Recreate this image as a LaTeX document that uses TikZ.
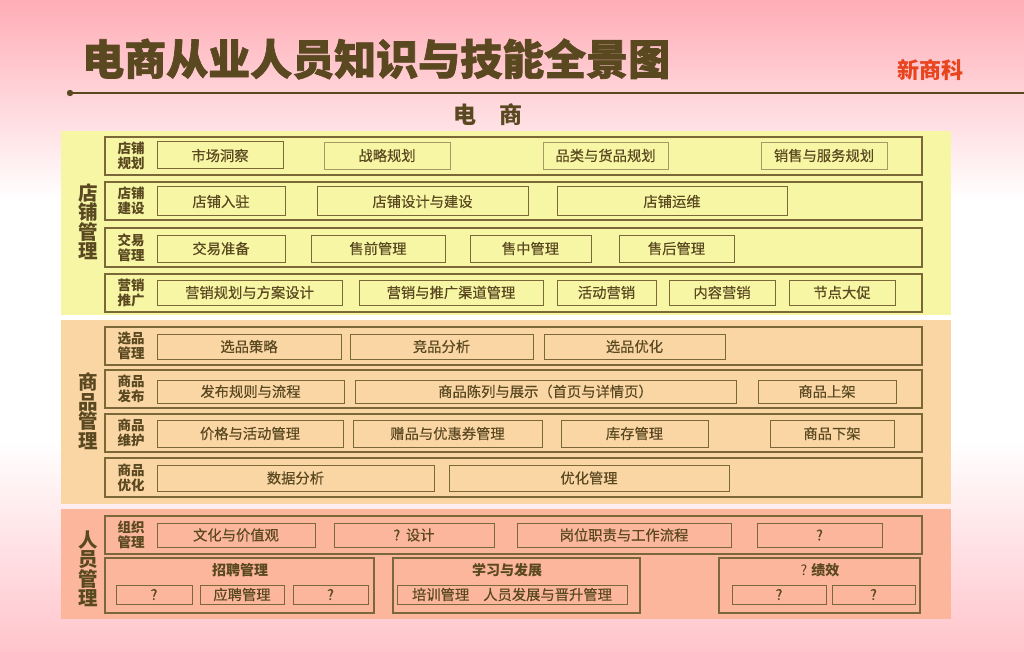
\documentclass[tikz,border=0pt]{standalone}
\usepackage{fontspec}
\setmainfont{Noto Sans CJK SC}
\newfontfamily\titlefont{Noto Sans CJK SC}[FakeBold=1.6]
\newfontfamily\cellfont{Noto Sans CJK SC}[FakeBold=0.35]
\definecolor{bgpink}{HTML}{FFADB6}
\definecolor{bgpinkb}{HTML}{FFC4CB}
\definecolor{txt}{HTML}{5A4820}
\definecolor{brd}{HTML}{7A6838}
\definecolor{brdlight}{HTML}{A89868}
\definecolor{secyellow}{HTML}{F6F6A4}
\definecolor{secorange}{HTML}{FAD6A4}
\definecolor{secsalmon}{HTML}{FBB69C}
\definecolor{red}{HTML}{E8441E}
\newcommand\cellnode[7][cell]{%
  \node[#1, minimum width={(#5)*1pt-(#3)*1pt}, minimum height={(#6)*1pt-(#4)*1pt}]
    (#2) at ({(#3+#5)/2},{(#4+#6)/2}) {#7};}
\begin{document}
\begin{tikzpicture}[x=1pt,y=-1pt,
  cell/.style={draw=brd, line width=1pt, inner sep=0pt, outer sep=0pt, text=txt,
    font=\cellfont\fontsize{14.3}{14}\selectfont},
  celllight/.style={cell, draw=brdlight, line width=0.8pt},
  rowbox/.style={draw=brd, line width=1.3pt, inner sep=0pt, outer sep=0pt},
  grpbox/.style={draw=brd, line width=1.1pt, inner sep=0pt, outer sep=0pt},
  rowlabel/.style={text=txt, align=center, font=\fontsize{13.5}{15}\selectfont\bfseries, inner sep=0pt},
  seclabel/.style={text=txt, align=center, font=\fontsize{19.5}{19.5}\selectfont\bfseries, inner sep=0pt},
  grptitle/.style={text=txt, font=\fontsize{14}{14}\selectfont\bfseries, inner sep=0pt},
  section/.style={inner sep=0pt, outer sep=0pt, draw=none}
]
\useasboundingbox (0,0) rectangle (1024,652);
% background
\shade[top color=bgpink, bottom color=white] (0,0) rectangle (1024,200);
\fill[white] (0,200) rectangle (1024,440);
\shade[top color=white, bottom color=bgpinkb] (0,440) rectangle (1024,652);

% header
\node[text=txt, font=\titlefont\fontsize{42}{42}\selectfont\bfseries, inner sep=0pt, anchor=west] (title) at (82,59) {电商从业人员知识与技能全景图};
\node[text=red, font=\fontsize{22}{22}\selectfont\bfseries, inner sep=0pt] (brand) at (930,70) {新商科};
\coordinate (lineL) at (70,93);
\coordinate (lineR) at (1024,93);
\draw[txt, line width=2.6pt] (lineL) -- (lineR);
\fill[txt] (lineL) circle (3.2);
\node[text=txt, font=\fontsize{23}{23}\selectfont\bfseries, inner sep=0pt] (sub) at (488,115) {电\hspace{1em}商};

% sections
\cellnode[section, fill=secyellow]{secA}{61}{131}{951}{315}{}
\cellnode[section, fill=secorange]{secB}{61}{320}{951}{504}{}
\cellnode[section, fill=secsalmon]{secC}{61}{509}{951}{619}{}

\node[seclabel] (labA) at (88,222) {店\\铺\\管\\理};
\node[seclabel] (labB) at (88,411) {商\\品\\管\\理};
\node[seclabel] (labC) at (88,569) {人\\员\\管\\理};

% ---- section A rows
\cellnode[rowbox]{rA1}{105}{137}{922}{175}{}
\cellnode[rowbox]{rA2}{105}{182}{922}{220}{}
\cellnode[rowbox]{rA3}{105}{228}{922}{267}{}
\cellnode[rowbox]{rA4}{105}{274}{922}{312}{}
\node[rowlabel] (lA1) at (131,156) {店铺\\规划};
\node[rowlabel] (lA2) at (131,201) {店铺\\建设};
\node[rowlabel] (lA3) at (131,247.5) {交易\\管理};
\node[rowlabel] (lA4) at (131,293) {营销\\推广};

\cellnode{a11}{157}{142}{283}{169}{市场洞察}
\cellnode[celllight]{a12}{324}{142}{450}{169}{战略规划}
\cellnode[celllight]{a13}{543}{142}{668}{169}{品类与货品规划}
\cellnode[celllight]{a14}{761}{142}{887}{169}{销售与服务规划}

\cellnode{a21}{157}{187}{285}{216}{店铺入驻}
\cellnode{a22}{317}{187}{528}{216}{店铺设计与建设}
\cellnode{a23}{557}{187}{787}{216}{店铺运维}

\cellnode{a31}{157}{235}{285}{262}{交易准备}
\cellnode{a32}{311}{235}{445}{262}{售前管理}
\cellnode{a33}{470}{235}{591}{262}{售中管理}
\cellnode{a34}{619}{235}{734}{262}{售后管理}

\cellnode{a41}{157}{280}{342}{305}{营销规划与方案设计}
\cellnode{a42}{359}{280}{543}{305}{营销与推广渠道管理}
\cellnode{a43}{557}{280}{656}{305}{活动营销}
\cellnode{a44}{669}{280}{775}{305}{内容营销}
\cellnode{a45}{789}{280}{895}{305}{节点大促}

% ---- section B rows
\cellnode[rowbox]{rB1}{105}{327}{922}{365}{}
\cellnode[rowbox]{rB2}{105}{370}{922}{408}{}
\cellnode[rowbox]{rB3}{105}{414}{922}{452}{}
\cellnode[rowbox]{rB4}{105}{458}{922}{497}{}
\node[rowlabel] (lB1) at (131,346) {选品\\管理};
\node[rowlabel] (lB2) at (131,389) {商品\\发布};
\node[rowlabel] (lB3) at (131,433) {商品\\维护};
\node[rowlabel] (lB4) at (131,477.5) {商品\\优化};

\cellnode{b11}{157}{334}{341}{359}{选品策略}
\cellnode{b12}{350}{334}{533}{359}{竞品分析}
\cellnode{b13}{544}{334}{725}{359}{选品优化}

\cellnode{b21}{157}{380}{344}{403}{发布规则与流程}
\cellnode{b22}{355}{380}{736}{403}{商品陈列与展示（首页与详情页）}
\cellnode{b23}{758}{380}{896}{403}{商品上架}

\cellnode{b31}{157}{420}{343}{447}{价格与活动管理}
\cellnode{b32}{353}{420}{542}{447}{赠品与优惠券管理}
\cellnode{b33}{561}{420}{708}{447}{库存管理}
\cellnode{b34}{770}{420}{894}{447}{商品下架}

\cellnode{b41}{157}{465}{434}{491}{数据分析}
\cellnode{b42}{449}{465}{729}{491}{优化管理}

% ---- section C
\cellnode[rowbox]{rC1}{105}{516}{922}{554}{}
\node[rowlabel] (lC1) at (131,535) {组织\\管理};
\cellnode{c11}{157}{523}{315}{547}{文化与价值观}
\cellnode{c12}{334}{523}{494}{547}{?\hspace{0.4em}设计}
\cellnode{c13}{517}{523}{731}{547}{岗位职责与工作流程}
\cellnode{c14}{757}{523}{882}{547}{?}

\cellnode[grpbox]{g1}{105}{558}{374}{613}{}
\node[grptitle] (g1t) at (240,570) {招聘管理};
\cellnode{g11}{116}{585}{192}{604}{?}
\cellnode{g12}{200}{585}{284}{604}{应聘管理}
\cellnode{g13}{293}{585}{368}{604}{?}

\cellnode[grpbox]{g2}{393}{558}{640}{613}{}
\node[grptitle] (g2t) at (507,570) {学习与发展};
\cellnode{g21}{397}{585}{627}{604}{培训管理\hspace{14pt}人员发展与晋升管理}

\cellnode[grpbox]{g3}{719}{558}{920}{613}{}
\node[grptitle] (g3t) at (820,570) {\mdseries ?\hspace{0.3em}\bfseries 绩效};
\cellnode{g31}{732}{585}{826}{604}{?}
\cellnode{g32}{832}{585}{915}{604}{?}
\end{tikzpicture}
\end{document}
